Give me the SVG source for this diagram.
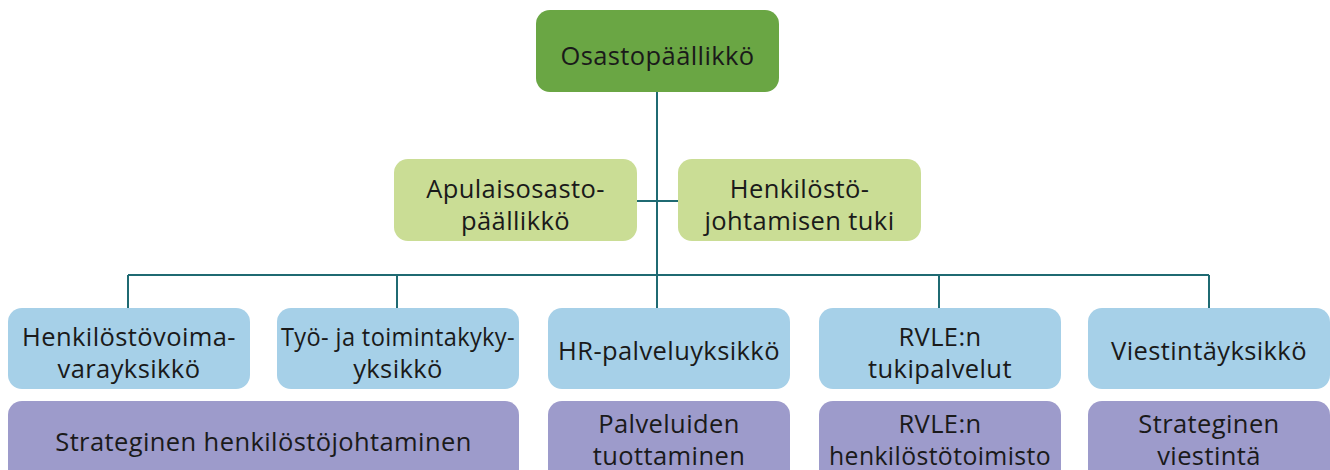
<svg xmlns="http://www.w3.org/2000/svg" width="1330" height="470" viewBox="0 0 1330 470">
<style>
text{font-family:"Open Sans","Noto Sans","Liberation Sans",sans-serif;font-size:25.5px;letter-spacing:0.4px;fill:#1a1a1a;text-anchor:middle}
.top{fill:#6aa644}
.mid{fill:#cadd95}
.unit{fill:#a6d0e8}
.task{fill:#9d9bcb}
.con{stroke:#1f6a72;stroke-width:2;fill:none}
</style>
<rect width="1330" height="470" fill="#ffffff"/>
<g id="connectors" class="con">
<line x1="657" y1="92" x2="657" y2="308"/>
<line x1="637" y1="201" x2="678" y2="201"/>
<line x1="128" y1="275" x2="1209" y2="275"/>
<line x1="128" y1="275" x2="128" y2="308"/>
<line x1="397" y1="275" x2="397" y2="308"/>
<line x1="939" y1="275" x2="939" y2="308"/>
<line x1="1209" y1="275" x2="1209" y2="308"/>
</g>
<g id="osastopaallikko"><rect class="top" x="536" y="10" width="243" height="82" rx="14"/><text x="657.5" y="65">Osastopäällikkö</text></g>
<g id="apulaisosastopaallikko"><rect class="mid" x="394" y="159" width="243" height="82" rx="14"/><text x="515.5" y="198">Apulaisosasto-</text><text x="515.5" y="230">päällikkö</text></g>
<g id="henkilostojohtamisen-tuki"><rect class="mid" x="678" y="159" width="243" height="82" rx="14"/><text x="799.5" y="198">Henkilöstö-</text><text x="799.5" y="230">johtamisen tuki</text></g>
<g id="henkilostovoimavarayksikko"><rect class="unit" x="8" y="308" width="242" height="81" rx="14"/><text x="129" y="346">Henkilöstövoima-</text><text x="129" y="378">varayksikkö</text></g>
<g id="tyo-ja-toimintakykyyksikko"><rect class="unit" x="277" y="308" width="242" height="81" rx="14"/><text x="398" y="346" textLength="234" lengthAdjust="spacingAndGlyphs">Työ- ja toimintakyky-</text><text x="398" y="378">yksikkö</text></g>
<g id="hr-palveluyksikko"><rect class="unit" x="548" y="308" width="242" height="81" rx="14"/><text x="669" y="360">HR-palveluyksikkö</text></g>
<g id="rvle-tukipalvelut"><rect class="unit" x="819" y="308" width="242" height="81" rx="14"/><text x="940" y="346">RVLE:n</text><text x="940" y="378">tukipalvelut</text></g>
<g id="viestintayksikko"><rect class="unit" x="1088" y="308" width="242" height="81" rx="14"/><text x="1209" y="360">Viestintäyksikkö</text></g>
<g id="strateginen-henkilostojohtaminen"><rect class="task" x="8" y="401" width="511" height="90" rx="14"/><text x="263.5" y="451">Strateginen henkilöstöjohtaminen</text></g>
<g id="palveluiden-tuottaminen"><rect class="task" x="548" y="401" width="242" height="90" rx="14"/><text x="669" y="433">Palveluiden</text><text x="669" y="465">tuottaminen</text></g>
<g id="rvle-henkilostotoimisto"><rect class="task" x="819" y="401" width="242" height="90" rx="14"/><text x="940" y="433">RVLE:n</text><text x="940" y="465" textLength="222" lengthAdjust="spacingAndGlyphs">henkilöstötoimisto</text></g>
<g id="strateginen-viestinta"><rect class="task" x="1088" y="401" width="242" height="90" rx="14"/><text x="1209" y="433">Strateginen</text><text x="1209" y="465">viestintä</text></g>
</svg>
